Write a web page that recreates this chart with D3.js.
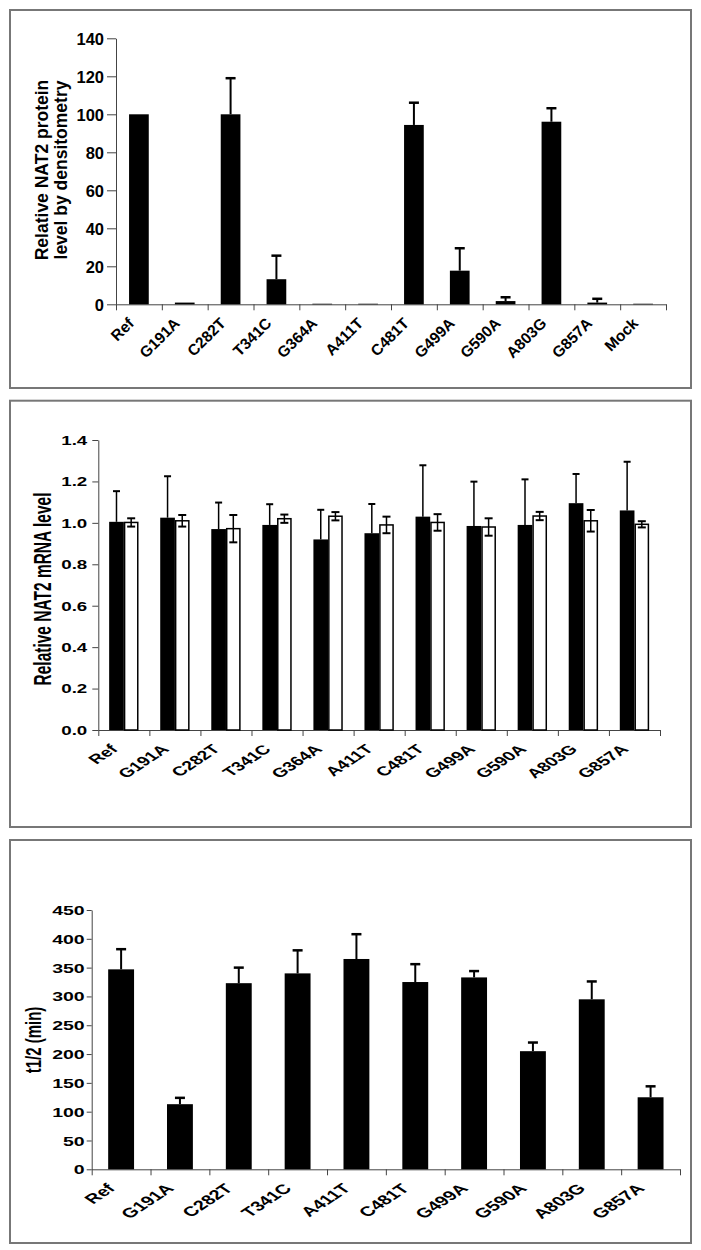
<!DOCTYPE html>
<html>
<head>
<meta charset="utf-8">
<script src="https://cdn.jsdelivr.net/npm/d3@7"></script>
<style>
  body { margin: 0; background: #fff; }
  svg text { font-family: "Liberation Sans", Arial, sans-serif; font-weight: bold; fill: #000; }
</style>
</head>
<body>
<div id="chart"></div>
<script>
// panel A: protein level by densitometry
const proteinCats = ['Ref', 'G191A', 'C282T', 'T341C', 'G364A', 'A411T', 'C481T', 'G499A', 'G590A', 'A803G', 'G857A', 'Mock'];
const proteinValues = [100, 0.9, 100, 13.2, 0.3, 0.3, 94.4, 17.7, 1.7, 96.1, 0.9, 0.3];
const proteinErrors = [0, 0, 19, 12.4, 0, 0, 11.7, 11.8, 2.0, 7.1, 2.0, 0];
const proteinTicks = [0, 20, 40, 60, 80, 100, 120, 140];

// panel B: mRNA level (black and white series)
const mrnaCats = ['Ref', 'G191A', 'C282T', 'T341C', 'G364A', 'A411T', 'C481T', 'G499A', 'G590A', 'A803G', 'G857A'];
const mrnaBlack = [1.005, 1.025, 0.97, 0.99, 0.92, 0.95, 1.03, 0.985, 0.99, 1.095, 1.06];
const mrnaBlackErr = [0.148, 0.2, 0.128, 0.1, 0.143, 0.141, 0.248, 0.214, 0.22, 0.141, 0.235];
const mrnaWhite = [1.002, 1.01, 0.972, 1.02, 1.032, 0.99, 1.002, 0.98, 1.033, 1.01, 0.993];
const mrnaWhiteErr = [0.02, 0.028, 0.066, 0.02, 0.02, 0.04, 0.04, 0.042, 0.02, 0.052, 0.015];
const mrnaTicks = [0, 0.2, 0.4, 0.6, 0.8, 1.0, 1.2, 1.4];

// panel C: half-life
const halfCats = ['Ref', 'G191A', 'C282T', 'T341C', 'A411T', 'C481T', 'G499A', 'G590A', 'A803G', 'G857A'];
const halfValues = [347, 113, 323, 340, 365, 325, 333, 205, 295, 125];
const halfErrors = [35, 11, 27, 40, 43, 31, 11, 15, 31, 19];
const halfTicks = [0, 50, 100, 150, 200, 250, 300, 350, 400, 450];

const svg = d3.select('#chart').append('svg')
  .attr('width', 701)
  .attr('height', 1250);

svg.append('rect').attr('width', 701).attr('height', 1250).attr('fill', '#fff');

function frame(x0, y0, x1, y1) {
  svg.append('rect')
    .attr('x', x0).attr('y', y0)
    .attr('width', x1 - x0).attr('height', y1 - y0)
    .attr('fill', 'none')
    .attr('stroke', '#777')
    .attr('stroke-width', 2);
}

// common axes: y axis with ticks to the left, x axis with ticks at category borders
function drawAxes(p) {
  const n = p.cats.length;
  const slots = d3.scaleLinear().domain([0, n]).range([p.x0, p.x1]);

  const yAxis = svg.append('g')
    .attr('transform', 'translate(' + p.x0 + ',0)')
    .call(d3.axisLeft(p.y).tickValues(p.ticks).tickSize(p.tickLen).tickSizeOuter(0).tickFormat(p.fmt));
  yAxis.select('.domain').attr('stroke', '#444');
  yAxis.selectAll('.tick line').attr('stroke', '#444');
  yAxis.selectAll('.tick text')
    .attr('x', null).attr('dy', '0.35em')
    .attr('text-anchor', 'end')
    .attr('font-size', p.tickFont)
    .attr('transform', 'translate(' + (-p.tickLen - p.tickPad) + ',0) scale(' + p.sx + ',1)');

  const xAxis = svg.append('g')
    .attr('transform', 'translate(0,' + p.y(0) + ')')
    .call(d3.axisBottom(slots).tickValues(d3.range(n + 1)).tickSize(6).tickSizeOuter(0).tickFormat(''));
  xAxis.select('.domain').attr('stroke', '#444');
  xAxis.selectAll('.tick line').attr('stroke', '#444');

  // category labels, slanted 45 degrees; end of each label sits under its bar
  svg.append('g').selectAll('text')
    .data(p.cats)
    .enter()
    .append('text')
    .attr('text-anchor', 'end')
    .attr('font-size', p.labFont)
    .attr('transform', d => 'translate(' + (p.x(d) + p.x.bandwidth() / 2 + p.labDx) + ',' + (p.y(0) + p.labDy) + ') scale(' + p.sx + ',1) rotate(-45)')
    .text(d => d);

  const title = svg.append('g')
    .attr('transform', 'translate(' + p.titleX + ',' + p.titleY + ')')
    .append('text')
    .attr('text-anchor', 'middle')
    .attr('font-size', p.titleFont)
    .attr('transform', 'scale(' + p.sx + ',1) rotate(-90)');
  p.title.forEach((line, i) => {
    title.append('tspan').attr('x', 0).attr('y', i * p.titleLead).text(line);
  });
}

function errorBars(g, data, xc, y, cap, both, w) {
  const eb = g.selectAll('g.eb').data(data).enter().append('g');
  eb.append('line')
    .attr('x1', d => xc(d)).attr('x2', d => xc(d))
    .attr('y1', d => y(both ? d.v - d.e : d.v)).attr('y2', d => y(d.v + d.e))
    .attr('stroke', '#000').attr('stroke-width', w);
  eb.append('line')
    .attr('x1', d => xc(d) - cap / 2).attr('x2', d => xc(d) + cap / 2)
    .attr('y1', d => y(d.v + d.e)).attr('y2', d => y(d.v + d.e))
    .attr('stroke', '#000').attr('stroke-width', w + 0.5);
  if (both) {
    eb.append('line')
      .attr('x1', d => xc(d) - cap / 2).attr('x2', d => xc(d) + cap / 2)
      .attr('y1', d => y(d.v - d.e)).attr('y2', d => y(d.v - d.e))
      .attr('stroke', '#000').attr('stroke-width', w + 0.5);
  }
}

//Panel A
frame(10, 10, 691, 388);
const xA = d3.scaleBand().domain(proteinCats).range([116, 666]).padding(0);
const yA = d3.scaleLinear().domain([0, 140]).range([304.3, 38.3]);
drawAxes({
  cats: proteinCats, x: xA, y: yA, x0: 116, x1: 666, ticks: proteinTicks, fmt: d3.format('d'),
  tickLen: 9, tickPad: 3, tickFont: 16.5, sx: 1, labFont: 15.5, labDx: -4, labDy: 20,
  title: ['Relative NAT2 protein', 'level by densitometry'], titleFont: 17.5, titleLead: 18.5, titleX: 48, titleY: 170
});
const dataA = proteinCats.map((c, i) => ({ c: c, v: proteinValues[i], e: proteinErrors[i] }));
const bwA = xA.bandwidth() * 0.43;
const gA = svg.append('g');
gA.selectAll('rect').data(dataA).enter().append('rect')
  .attr('x', d => xA(d.c) + (xA.bandwidth() - bwA) / 2)
  .attr('y', d => yA(d.v))
  .attr('width', bwA)
  .attr('height', d => yA(0) - yA(d.v))
  .attr('fill', '#000');
errorBars(gA, dataA.filter(d => d.e > 0), d => xA(d.c) + xA.bandwidth() / 2, yA, 10, false, 2);

//Panel B
frame(10, 400.7, 691, 827);
const xB = d3.scaleBand().domain(mrnaCats).range([98.3, 660]).padding(0);
const yB = d3.scaleLinear().domain([0, 1.4]).range([730, 440]);
drawAxes({
  cats: mrnaCats, x: xB, y: yB, x0: 98.3, x1: 660, ticks: mrnaTicks, fmt: d3.format('.1f'),
  tickLen: 6, tickPad: 5, tickFont: 12.5, sx: 1.5, labFont: 13, labDx: -5, labDy: 20,
  title: ['Relative NAT2 mRNA level'], titleFont: 15.5, titleLead: 0, titleX: 51, titleY: 589
});
const dataB = mrnaCats.map((c, i) => ({ c: c, v: mrnaBlack[i], e: mrnaBlackErr[i], w: mrnaWhite[i], we: mrnaWhiteErr[i] }));
const sub = d3.scaleBand().domain(['black', 'white']).range([0, xB.bandwidth() * 0.575]);
const offB = xB.bandwidth() * (1 - 0.575) / 2;
const gB = svg.append('g');
gB.selectAll('rect.blk').data(dataB).enter().append('rect')
  .attr('x', d => xB(d.c) + offB + sub('black'))
  .attr('y', d => yB(d.v))
  .attr('width', sub.bandwidth())
  .attr('height', d => yB(0) - yB(d.v))
  .attr('fill', '#000');
gB.selectAll('rect.wht').data(dataB).enter().append('rect')
  .attr('x', d => xB(d.c) + offB + sub('white') + 0.75)
  .attr('y', d => yB(d.w))
  .attr('width', sub.bandwidth() - 1.5)
  .attr('height', d => yB(0) - yB(d.w))
  .attr('fill', '#fff')
  .attr('stroke', '#000')
  .attr('stroke-width', 1.5);
errorBars(gB, dataB, d => xB(d.c) + offB + sub('black') + sub.bandwidth() / 2, yB, 7, false, 1.5);
errorBars(gB.append('g'), dataB.map(d => ({ c: d.c, v: d.w, e: d.we })),
  d => xB(d.c) + offB + sub('white') + sub.bandwidth() / 2, yB, 8, true, 1.5);

//Panel C
frame(10, 840, 691, 1243);
const xC = d3.scaleBand().domain(halfCats).range([91.7, 680]).padding(0);
const yC = d3.scaleLinear().domain([0, 450]).range([1169.3, 910]);
drawAxes({
  cats: halfCats, x: xC, y: yC, x0: 91.7, x1: 680, ticks: halfTicks, fmt: d3.format('d'),
  tickLen: 5, tickPad: 2, tickFont: 13, sx: 1.5, labFont: 13.5, labDx: -5, labDy: 20,
  title: ['t1/2 (min)'], titleFont: 15, titleLead: 0, titleX: 41, titleY: 1040
});
const dataC = halfCats.map((c, i) => ({ c: c, v: halfValues[i], e: halfErrors[i] }));
const bwC = xC.bandwidth() * 0.44;
const gC = svg.append('g');
gC.selectAll('rect').data(dataC).enter().append('rect')
  .attr('x', d => xC(d.c) + (xC.bandwidth() - bwC) / 2)
  .attr('y', d => yC(d.v))
  .attr('width', bwC)
  .attr('height', d => yC(0) - yC(d.v))
  .attr('fill', '#000');
errorBars(gC, dataC, d => xC(d.c) + xC.bandwidth() / 2, yC, 10, false, 2);
</script>
</body>
</html>
